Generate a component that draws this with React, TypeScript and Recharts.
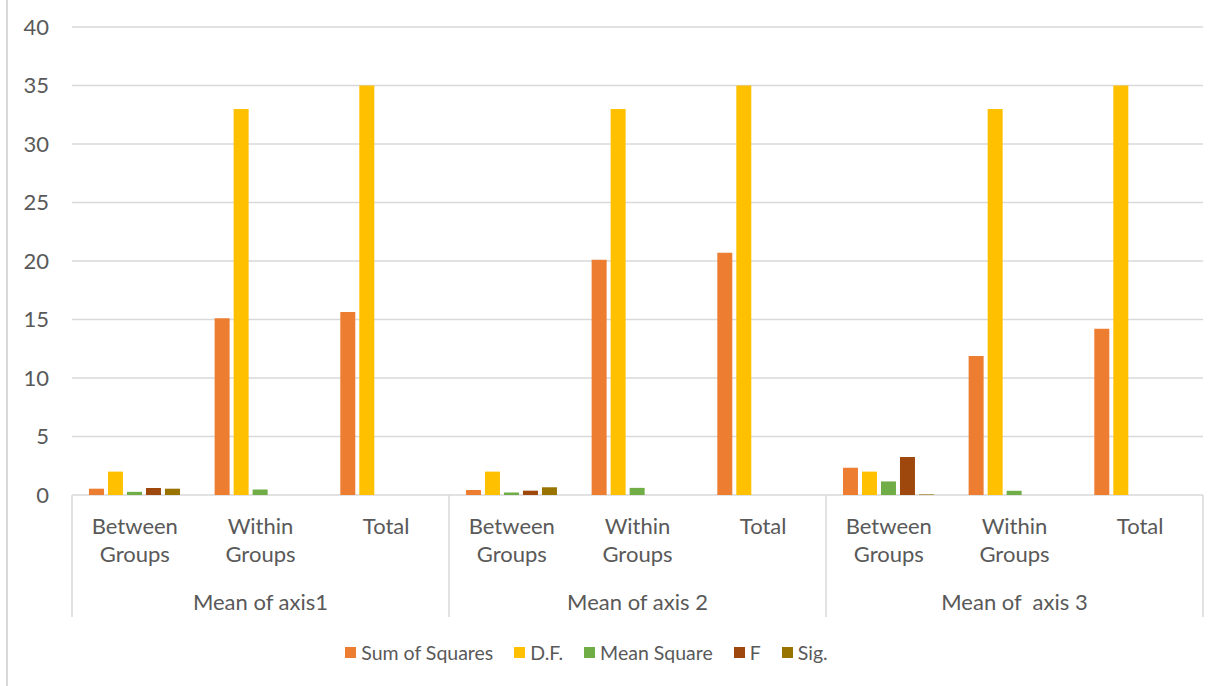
import React from 'react';
import { BarChart, Bar, XAxis, YAxis, CartesianGrid, Legend } from 'recharts';

const groups = ['Mean of axis1', 'Mean of axis 2', 'Mean of  axis 3'];
const subCategories = ['Between Groups', 'Within Groups', 'Total'];
const sumOfSquares = [0.54, 15.1, 15.64, 0.43, 20.1, 20.7, 2.33, 11.88, 14.2];
const degreesOfFreedom = [2, 33, 35, 2, 33, 35, 2, 33, 35];
const meanSquare = [0.27, 0.46, null, 0.22, 0.61, null, 1.16, 0.36, null];
const fValues = [0.6, null, null, 0.37, null, null, 3.25, null, null];
const sigValues = [0.54, null, null, 0.66, null, null, 0.05, null, null];
const yTicks = [0, 5, 10, 15, 20, 25, 30, 35, 40];

const seriesDefs = [
  { key: 'ss', name: 'Sum of Squares', color: '#ED7D31' },
  { key: 'df', name: 'D.F.', color: '#FFC000' },
  { key: 'ms', name: 'Mean Square', color: '#70AD47' },
  { key: 'f', name: 'F', color: '#9E480E' },
  { key: 'sig', name: 'Sig.', color: '#997300' },
];

const data = groups.flatMap((g, gi) =>
  subCategories.map((c, ci) => {
    const i = gi * 3 + ci;
    return {
      cat: c,
      group: g,
      idx: i,
      ss: sumOfSquares[i],
      df: degreesOfFreedom[i],
      ms: meanSquare[i],
      f: fValues[i],
      sig: sigValues[i],
    };
  })
);

const FONT = 'Lato, "Open Sans", sans-serif';
const TEXT = '#595959';
const LINE = '#D9D9D9';
const FS = 22;
const LEGEND_FS = 19.5;

const CategoryTick = (props: any) => {
  const { x, y, payload, index } = props;
  const cx = payload.coordinate ?? x;
  const half = payload.offset ?? 62.8;
  const item = data[index];
  const lines = item ? item.cat.split(' ') : [];
  const els: any[] = [];
  lines.forEach((ln: string, li: number) => {
    els.push(
      <text key={'l' + li} x={cx} y={y + 30 + li * 28} textAnchor="middle" dominantBaseline="central"
        fill={TEXT} fontSize={FS} fontFamily={FONT}>{ln}</text>
    );
  });
  if (index % 3 === 1 && item) {
    els.push(
      <text key="g" x={cx} y={y + 106} textAnchor="middle" dominantBaseline="central"
        fill={TEXT} fontSize={FS} fontFamily={FONT} style={{ whiteSpace: 'pre' }}>{item.group}</text>
    );
  }
  if (index % 3 === 0) {
    els.push(<line key="d0" x1={cx - half} x2={cx - half} y1={y} y2={y + 122} stroke={LINE} strokeWidth={1.5} />);
  }
  if (index === data.length - 1) {
    els.push(<line key="d1" x1={cx + half} x2={cx + half} y1={y} y2={y + 122} stroke={LINE} strokeWidth={1.5} />);
  }
  return <g>{els}</g>;
};

const LegendContent = (props: any) => {
  const { payload } = props;
  const order = seriesDefs.map((s) => s.name);
  const items = [...(payload || [])].sort((a: any, b: any) => order.indexOf(a.value) - order.indexOf(b.value));
  return (
    <div style={{ display: 'flex', justifyContent: 'center', alignItems: 'center', fontFamily: FONT, fontSize: LEGEND_FS, color: TEXT, paddingRight: 52 }}>
      {items.map((p: any, i: number) => (
        <div key={i} style={{ display: 'flex', alignItems: 'center', marginLeft: i === 0 ? 0 : 21 }}>
          <div style={{ width: 11, height: 11, background: p.color, marginRight: 5 }} />
          <span>{p.value}</span>
        </div>
      ))}
    </div>
  );
};

export default function App() {
  return (
    <div style={{ position: 'absolute', left: 0, top: 0, width: 1225, height: 686, background: '#fff' }}>
      <div style={{ position: 'absolute', left: 6, top: 0, width: 1.5, height: 686, background: LINE }} />
      <BarChart
        width={1225}
        height={686}
        data={data}
        margin={{ top: 27, right: 22, left: 0, bottom: 39 }}
        barCategoryGap="13.5%"
        barGap={4}
      >
        <CartesianGrid vertical={false} stroke={LINE} strokeWidth={1.5} />
        <YAxis
          domain={[0, 40]}
          ticks={yTicks}
          width={72}
          axisLine={false}
          tickLine={false}
          tickSize={0}
          tickMargin={23}
          tick={{ fill: TEXT, fontSize: FS, fontFamily: FONT }}
          interval={0}
        />
        <XAxis
          dataKey="idx"
          height={122}
          axisLine={false}
          tickLine={false}
          tickSize={0}
          tickMargin={0}
          interval={0}
          tick={<CategoryTick />}
        />
        <Legend
          verticalAlign="bottom"
          height={40}
          itemSorter={null as any}
          content={<LegendContent />}
          wrapperStyle={{ top: 641, left: 0, width: 1225, height: 30 }}
        />
        {seriesDefs.map((s) => (
          <Bar key={s.key} dataKey={s.key} name={s.name} fill={s.color} isAnimationActive={false} />
        ))}
      </BarChart>
    </div>
  );
}
